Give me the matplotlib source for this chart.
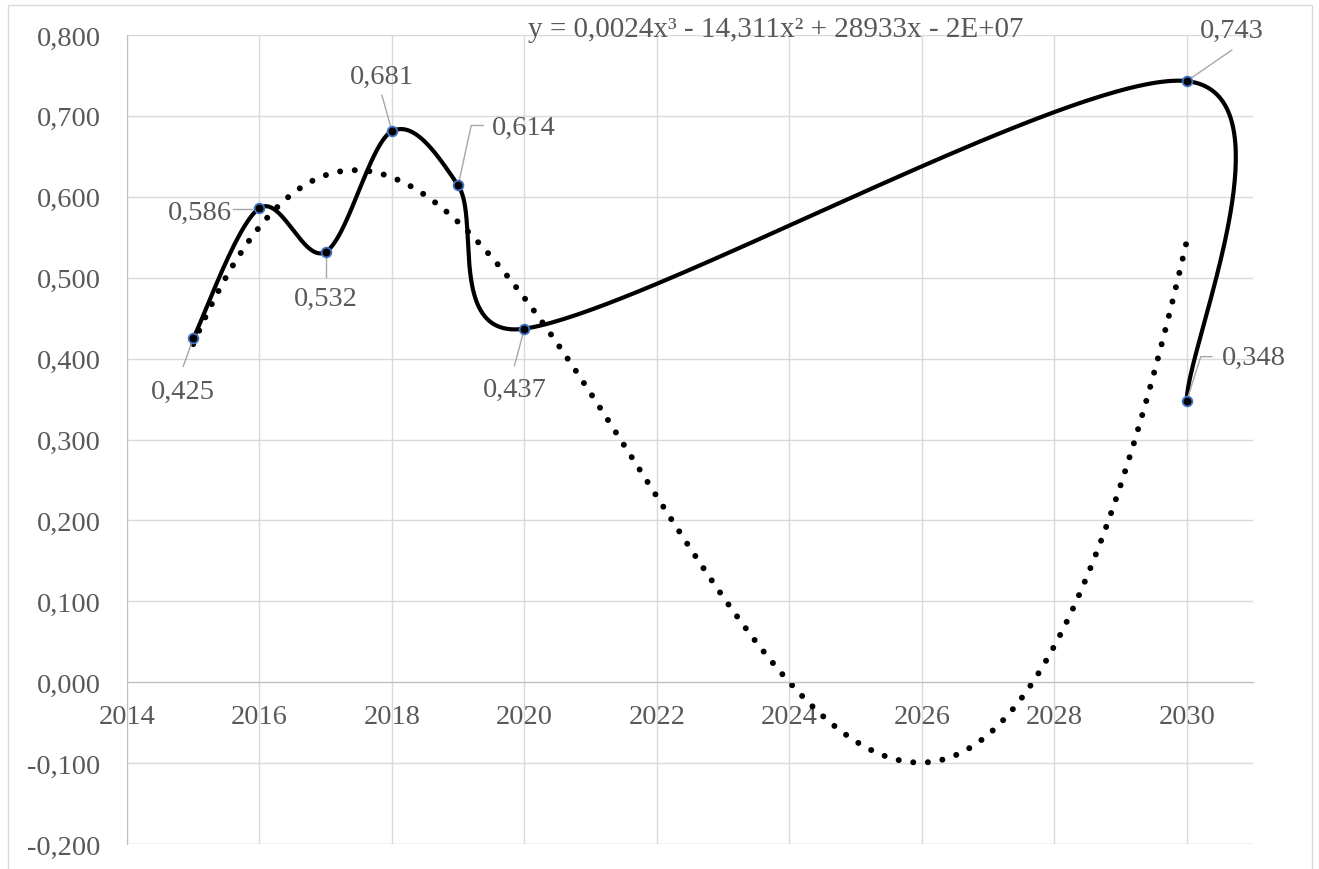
import numpy as np
import matplotlib
matplotlib.use('Agg')
import matplotlib.pyplot as plt
from matplotlib.patches import Rectangle
from matplotlib.transforms import IdentityTransform

# data
years = [2015, 2016, 2017, 2018, 2019, 2020, 2030, 2030]
values = [0.425, 0.586, 0.532, 0.681, 0.614, 0.437, 0.743, 0.348]
value_labels = ['0,425', '0,586', '0,532', '0,681', '0,614', '0,437', '0,743', '0,348']
x_ticks = [2014, 2016, 2018, 2020, 2022, 2024, 2026, 2028, 2030]
y_ticks = [-0.2, -0.1, 0.0, 0.1, 0.2, 0.3, 0.4, 0.5, 0.6, 0.7, 0.8]
equation = 'y = 0,0024x³ - 14,311x² + 28933x - 2E+07'

# label placement, pixel offsets from the point (x right, y up)
label_offsets = [(-10, -53), (-60, -4), (0, -47), (-10, 55), (66, 58), (-10, -61), (45, 51), (67, 43)]
leaders = [
    [(0, 0), (-10, -28)],
    [(-7, -1), (-26, -1)],
    [(0, 0), (0, -25)],
    [(0, 0), (-10, 36)],
    [(0, 0), (13, 60), (25, 60)],
    [(0, 0), (-10, -37)],
    [(0, 0), (45, 31)],
    [(0, 0), (14, 44), (25, 44)],
]

TXT = '#595959'
GRID = '#d9d9d9'
plt.rcParams['font.family'] = ['Liberation Serif', 'DejaVu Serif']
FS = 20.5


def excel_smooth(xs, ys, sx, sy, n=80):
    # bezier smoothing similar to excel's "smoothed line", done in pixel space
    P = np.column_stack([np.asarray(xs, float) * sx, np.asarray(ys, float) * sy])
    N = len(P)
    out = []
    t = np.linspace(0, 1, n)[:, None]
    for i in range(N - 1):
        p0 = P[i - 1] if i > 0 else P[i]
        p1 = P[i]
        p2 = P[i + 1]
        p3 = P[i + 2] if i + 2 < N else P[i + 1]
        d12 = np.linalg.norm(p2 - p1)
        d02 = np.linalg.norm(p2 - p0)
        d13 = np.linalg.norm(p3 - p1)
        f1 = 1 / 6 if d02 / 6 < d12 / 2 else d12 / 2 / d02
        f2 = 1 / 6 if d13 / 6 < d12 / 2 else d12 / 2 / d13
        c1 = p1 + f1 * (p2 - p0)
        c2 = p2 - f2 * (p3 - p1)
        seg = (1 - t) ** 3 * p1 + 3 * (1 - t) ** 2 * t * c1 + 3 * (1 - t) * t ** 2 * c2 + t ** 3 * p2
        out.append(seg if i == 0 else seg[1:])
    out = np.vstack(out)
    return out[:, 0] / sx, out[:, 1] / sy


fig = plt.figure(figsize=(13.19, 8.70), dpi=100)
ax = fig.add_axes([127 / 1319, 1 - 845 / 870, (1253 - 127) / 1319, (845 - 36) / 870])
ax.set_xlim(2014, 2031)
ax.set_ylim(-0.2, 0.8)

# chart area border
fig.patches.append(Rectangle((8 / 1319, -0.1), (1312 - 8) / 1319, (864 / 870) + 0.1,
                             transform=fig.transFigure, fill=False, edgecolor=GRID, lw=1.0))

ax.set_xticks(x_ticks)
ax.set_yticks(y_ticks)
ax.set_xticklabels([str(v) for v in x_ticks])
ax.set_yticklabels([('%.3f' % v).replace('.', ',') for v in y_ticks])
ax.tick_params(axis='both', length=0, labelsize=FS, labelcolor=TXT)
ax.tick_params(axis='y', pad=19)
ax.tick_params(axis='x', pad=16)
ax.grid(True, color=GRID, lw=1.0)
ax.set_axisbelow(True)
for s in ['top', 'right']:
    ax.spines[s].set_visible(False)
ax.spines['left'].set_color('#bfbfbf')
ax.spines['bottom'].set_position(('data', 0))
ax.spines['bottom'].set_color('#bfbfbf')
ax.axhline(-0.2, color=GRID, lw=1.0, zorder=0.5)

# polynomial trendline (order 3) of the series
xr = np.array(years, float) - 2015
coef = np.polyfit(xr, values, 3)
tx = np.linspace(2015, 2030, 300)
ty = np.polyval(coef, tx - 2015)
ax.plot(tx, ty, color='black', lw=4.3, linestyle=(0, (0.01, 2.45)),
        dash_capstyle='round', zorder=2)

# smoothed series line
sx = 1126 / 17.0
sy = 809 / 1.0
smx, smy = excel_smooth(years, values, sx, sy)
ax.plot(smx, smy, color='black', lw=3, solid_capstyle='round', zorder=3)
ax.plot(years, values, 'o', color='black', markersize=7, markeredgecolor='#4472c4',
        markeredgewidth=1.3, zorder=5)

fig.canvas.draw()
for (x, y), lab, off, ld in zip(zip(years, values), value_labels, label_offsets, leaders):
    px, py = ax.transData.transform((x, y))
    lx = [px + a for a, b in ld]
    ly = [py + b for a, b in ld]
    ax.plot(lx, ly, color='#a6a6a6', lw=1.0, transform=IdentityTransform(), zorder=4, clip_on=False)
    ax.annotate(lab, (x, y), xytext=off, textcoords='offset pixels', ha='center', va='center',
                fontsize=FS, color=TXT, zorder=6, annotation_clip=False)

ax.text(2023.8, 0.799, equation, ha='center', va='baseline', fontsize=21, color=TXT, zorder=6)

fig.savefig('out.png', dpi=100)
